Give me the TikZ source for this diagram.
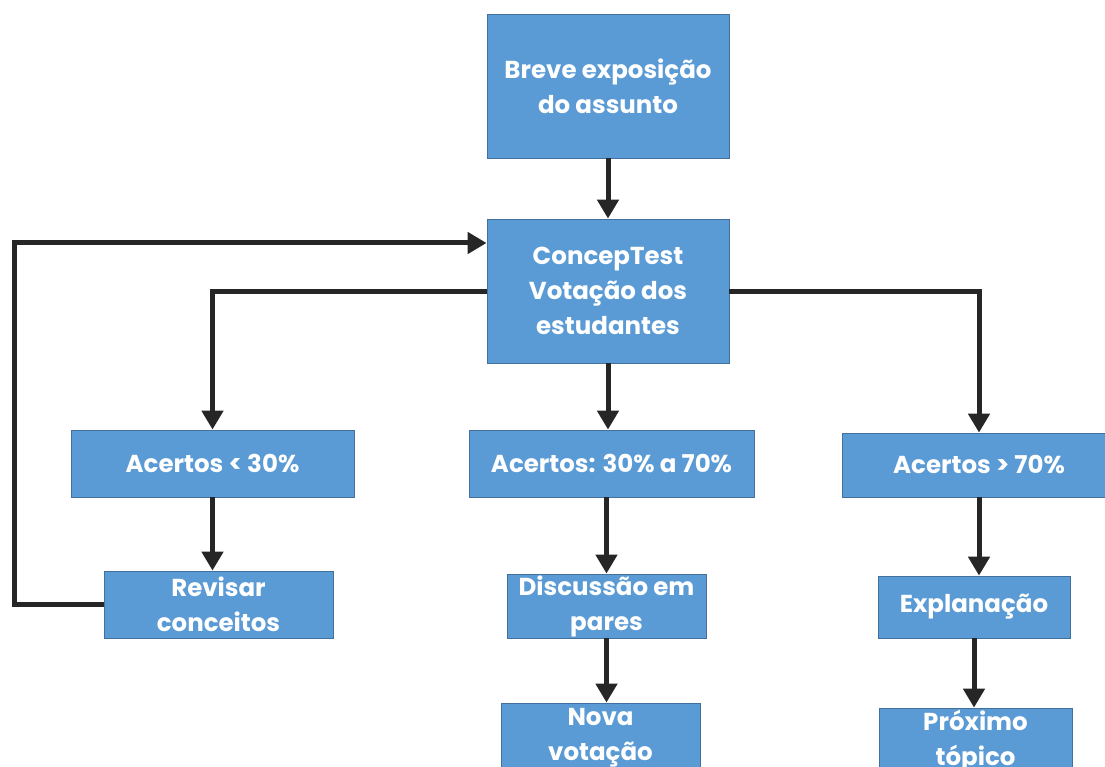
\documentclass[tikz,border=0pt]{standalone}
\usepackage{fontspec}
\setmainfont{Poppins}
\usetikzlibrary{arrows.meta}
\definecolor{boxblue}{HTML}{5B9BD5}
\definecolor{boxline}{HTML}{41719C}
\definecolor{linegray}{HTML}{262626}
\tikzset{
  box/.style={draw=boxline, line width=0.8pt, fill=boxblue, text=white,
    font=\bfseries\fontsize{24.5}{35}\selectfont, align=center, inner sep=0pt},
  flow/.style={draw=linegray, line width=5pt, -{Triangle[width=21pt,length=19pt]}},
}
\begin{document}
\begin{tikzpicture}[x=1pt,y=-1pt]
    \useasboundingbox (0,0) rectangle (1105,767);
    \clip (0,0) rectangle (1105,767);

    \node[box, minimum width=242pt, minimum height=144pt] (breve) at (608,86) {Breve exposição\\do assunto};
    \node[box, minimum width=242pt, minimum height=144pt] (concep) at (608,291) {ConcepTest\\Votação dos\\estudantes};

    \node[box, minimum width=283pt, minimum height=67pt] (low) at (212.5,463.5) {Acertos < 30\%};
    \node[box, minimum width=285pt, minimum height=67pt] (mid) at (611.5,463.5) {Acertos: 30\% a 70\%};
    \node[box, minimum width=274pt, minimum height=64pt] (high) at (979,465) {Acertos > 70\%};

    \node[box, minimum width=229pt, minimum height=67pt] (rev) at (218.5,604.5) {Revisar\\conceitos};
    \node[box, minimum width=199pt, minimum height=64pt] (disc) at (606.5,606) {Discussão em\\pares};
    \node[box, minimum width=192pt, minimum height=62pt] (expl) at (974,607) {Explanação};

    \node[box, minimum width=199pt, minimum height=70pt] (nova) at (600.5,738) {Nova\\votação};
    \node[box, minimum width=193pt, minimum height=66pt] (prox) at (975.5,741) {Próximo\\tópico};

    \coordinate (back) at (14,243);

    \draw[flow] (breve.south) -- (concep.north);
    \draw[flow] (concep.south) -- (mid.north -| concep.south);
    \draw[flow] (concep.west) -| (low.north);
    \draw[flow] (concep.east) -| (high.north);

    \draw[flow] (low.south) -- (rev.north -| low.south);
    \draw[flow] (mid.south -| disc.north) -- (disc.north);
    \draw[flow] (high.south) -- (expl.north -| high.south);

    \draw[flow] (disc.south) -- (nova.north -| disc.south);
    \draw[flow] (expl.south) -- (prox.north -| expl.south);

    \draw[flow] (rev.west) -| (back) -- (concep.west |- back);
\end{tikzpicture}
\end{document}
